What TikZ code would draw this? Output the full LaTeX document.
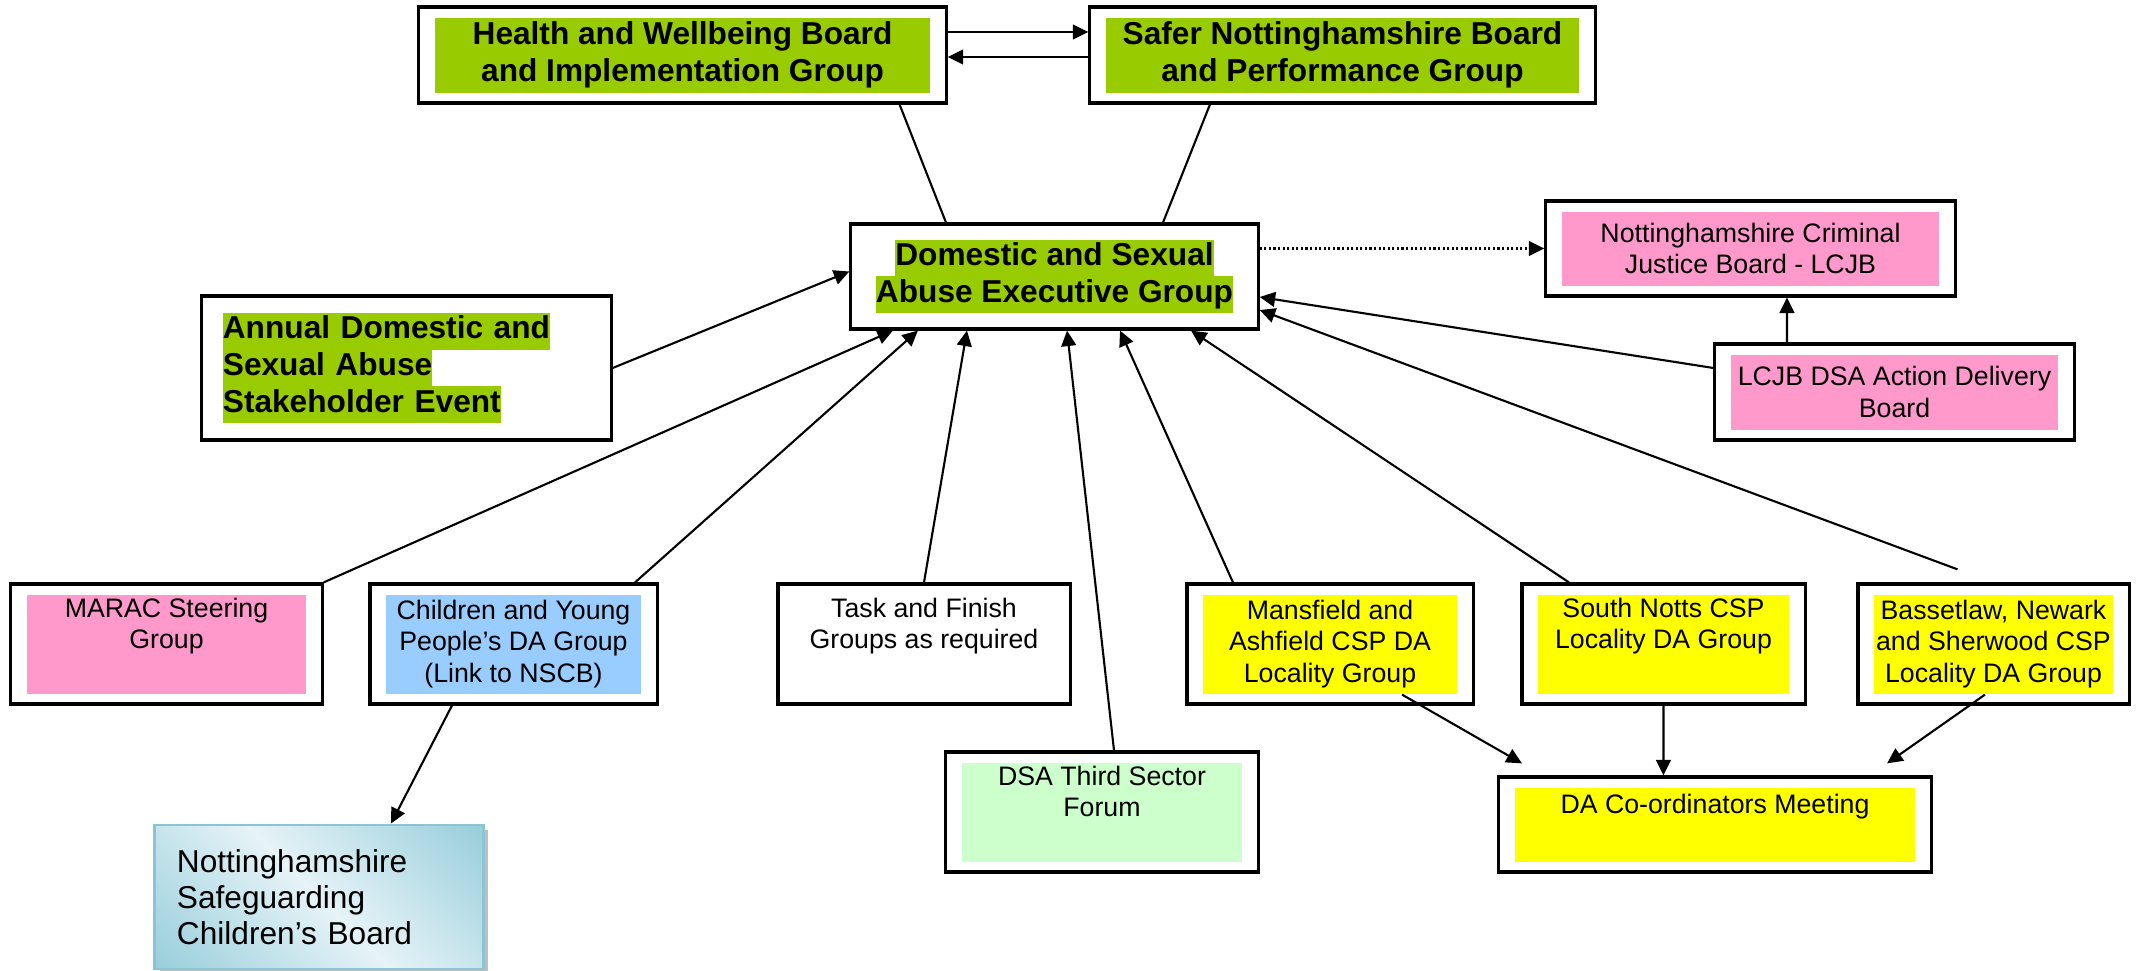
\documentclass[tikz,border=0pt]{standalone}
\usepackage{fontspec}
\setmainfont{Liberation Sans}
\usetikzlibrary{arrows.meta, shadows}

\definecolor{hwgreen}{RGB}{153,204,0}
\definecolor{pinkc}{RGB}{255,153,204}
\definecolor{bluec}{RGB}{153,204,255}
\definecolor{yellowc}{RGB}{255,255,0}
\definecolor{mintc}{RGB}{204,255,204}
\definecolor{nsdark}{RGB}{146,203,217}
\definecolor{nslight}{RGB}{230,243,247}
\definecolor{nsedge}{RGB}{140,196,212}

\pgfdeclarehorizontalshading{nscbshade}{100bp}{color(0bp)=(nsdark); color(12bp)=(nsdark); color(50bp)=(nslight); color(88bp)=(nsdark); color(100bp)=(nsdark)}

% green text highlight, one line at a time
\newcommand{\hlg}[1]{{\setlength{\fboxsep}{0pt}\colorbox{hwgreen}{\strut #1}}}

\tikzset{
    grpbox/.style={draw, line width=0.9pt, fill=white, inner sep=0pt, align=center,
        font=\fontsize{7.6}{9}\selectfont,
        path picture={\fill[#1] ([shift={(0.16cm,0.10cm)}]path picture bounding box.south west)
            rectangle ([shift={(-0.16cm,-0.11cm)}]path picture bounding box.north east);}},
    grpbox/.default=white,
    boldtxt/.style={font=\fontsize{9}{10.5}\selectfont\bfseries},
    nscbbox/.style={draw=nsedge, line width=0.8pt, shading=nscbshade, shading angle=45,
        drop shadow={shadow xshift=0.05cm, shadow yshift=-0.05cm, fill=black!25, opacity=1},
        align=left, inner sep=0pt, font=\fontsize{9}{10.3}\selectfont},
    link/.style={line width=0.6pt},
    arr/.style={link, -{Triangle[length=4.4pt,width=4.2pt]}}
}

\begin{document}
\begin{tikzpicture}[x=0.01cm, y=-0.01cm]
    \useasboundingbox (0,0) rectangle (2156,971);

    % 1. boards at the top and the executive group
    \node[grpbox=hwgreen, boldtxt, minimum width=5.27cm, minimum height=0.96cm] (hwb) at (682.5,55)
        {Health and Wellbeing Board\\and Implementation Group};
    \node[grpbox=hwgreen, boldtxt, minimum width=5.05cm, minimum height=0.96cm] (safer) at (1342.5,55)
        {Safer Nottinghamshire Board\\and Performance Group};
    \node[grpbox, boldtxt, minimum width=4.07cm, minimum height=1.05cm] (dsae) at (1054.5,276.5)
        {\hlg{Domestic and Sexual}\\\hlg{Abuse Executive Group}};
    \node[grpbox, boldtxt, minimum width=4.09cm, minimum height=1.44cm, text width=3.67cm, align=left] (annual) at (406.5,368)
        {\hlg{Annual Domestic and}\\\hlg{Sexual Abuse}\\\hlg{Stakeholder Event}};

    % 2. criminal justice boxes on the right
    \node[grpbox=pinkc, minimum width=4.09cm, minimum height=0.95cm] (ncjb) at (1750.5,248.5)
        {Nottinghamshire Criminal\\Justice Board - LCJB};
    \node[grpbox=pinkc, minimum width=3.59cm, minimum height=0.96cm] (lcjb) at (1894.5,392)
        {LCJB DSA Action Delivery\\Board};

    % 3. groups in the lower row
    \node[grpbox=pinkc, minimum width=3.11cm, minimum height=1.20cm] (marac) at (166.5,644)
        {MARAC Steering\\Group\\\strut};
    \node[grpbox=bluec, minimum width=2.87cm, minimum height=1.20cm] (cyp) at (513.5,644)
        {Children and Young\\People’s DA Group\\(Link to NSCB)};
    \node[grpbox, minimum width=2.92cm, minimum height=1.20cm] (task) at (924,644)
        {Task and Finish\\Groups as required\\\strut};
    \node[grpbox=mintc, minimum width=3.12cm, minimum height=1.20cm] (third) at (1102,812)
        {DSA Third Sector\\Forum\\\strut};
    \node[grpbox=yellowc, minimum width=2.86cm, minimum height=1.20cm] (mans) at (1330,644)
        {Mansfield and\\Ashfield CSP DA\\Locality Group};
    \node[grpbox=yellowc, minimum width=2.83cm, minimum height=1.20cm] (south) at (1663.5,644)
        {South Notts CSP\\Locality DA Group\\\strut};
    \node[grpbox=yellowc, minimum width=2.71cm, minimum height=1.20cm] (bass) at (1993.5,644)
        {Bassetlaw, Newark\\and Sherwood CSP\\Locality DA Group};
    \node[grpbox=yellowc, minimum width=4.32cm, minimum height=0.95cm] (coord) at (1715,824.5)
        {DA Co-ordinators Meeting\\\strut};
    \node[nscbbox, minimum width=3.28cm, minimum height=1.44cm, text width=2.84cm] (nscb) at (319,897)
        {Nottinghamshire\\Safeguarding\\Children’s Board};

    % 4. links between the top boards
    \draw[arr] ([yshift=0.23cm]hwb.east) -- ([yshift=0.23cm]safer.west);
    \draw[arr] ([yshift=-0.02cm]safer.west) -- ([yshift=-0.02cm]hwb.east);
    \draw[link] ([xshift=2.17cm]hwb.south) -- ([xshift=-1.085cm]dsae.north);
    \draw[link] ([xshift=-1.325cm]safer.south) -- ([xshift=1.085cm]dsae.north);

    % 5. right hand side
    \draw[arr, dash pattern=on 0.6pt off 0.7pt] (dsae.east |- ncjb.west) -- (ncjb.west);
    \draw[arr] ([xshift=-1.075cm]lcjb.north) -- ([xshift=0.365cm]ncjb.south);
    \draw[arr] ([yshift=0.24cm]lcjb.west) -- ([yshift=-0.205cm]dsae.east);
    \draw[arr] ([shift={(-0.36cm,0.13cm)}]bass.north) -- ([yshift=-0.335cm]dsae.east);

    % 6. everything reporting up to the executive group
    \draw[arr] (annual.east) -- ([yshift=0.05cm]dsae.west);
    \draw[arr] (marac.north east) -- ([xshift=-1.615cm]dsae.south);
    \draw[arr] ([xshift=1.215cm]cyp.north) -- ([xshift=-1.365cm]dsae.south);
    \draw[arr] (task.north) -- ([xshift=-0.875cm]dsae.south);
    \draw[arr] ([xshift=0.12cm]third.north) -- ([xshift=0.125cm]dsae.south);
    \draw[arr] ([xshift=-0.97cm]mans.north) -- ([xshift=0.655cm]dsae.south);
    \draw[arr] ([xshift=-0.945cm]south.north) -- ([xshift=1.365cm]dsae.south);

    % 7. lower links
    \draw[arr] ([xshift=-0.615cm]cyp.south) -- ([xshift=0.72cm]nscb.north);
    \draw[arr] ([shift={(0.72cm,0.11cm)}]mans.south) -- ([shift={(-1.93cm,0.12cm)}]coord.north);
    \draw[arr] (south.south) -- ([xshift=-0.515cm]coord.north);
    \draw[arr] ([shift={(-0.085cm,0.11cm)}]bass.south) -- ([shift={(1.72cm,0.12cm)}]coord.north);

\end{tikzpicture}
\end{document}
